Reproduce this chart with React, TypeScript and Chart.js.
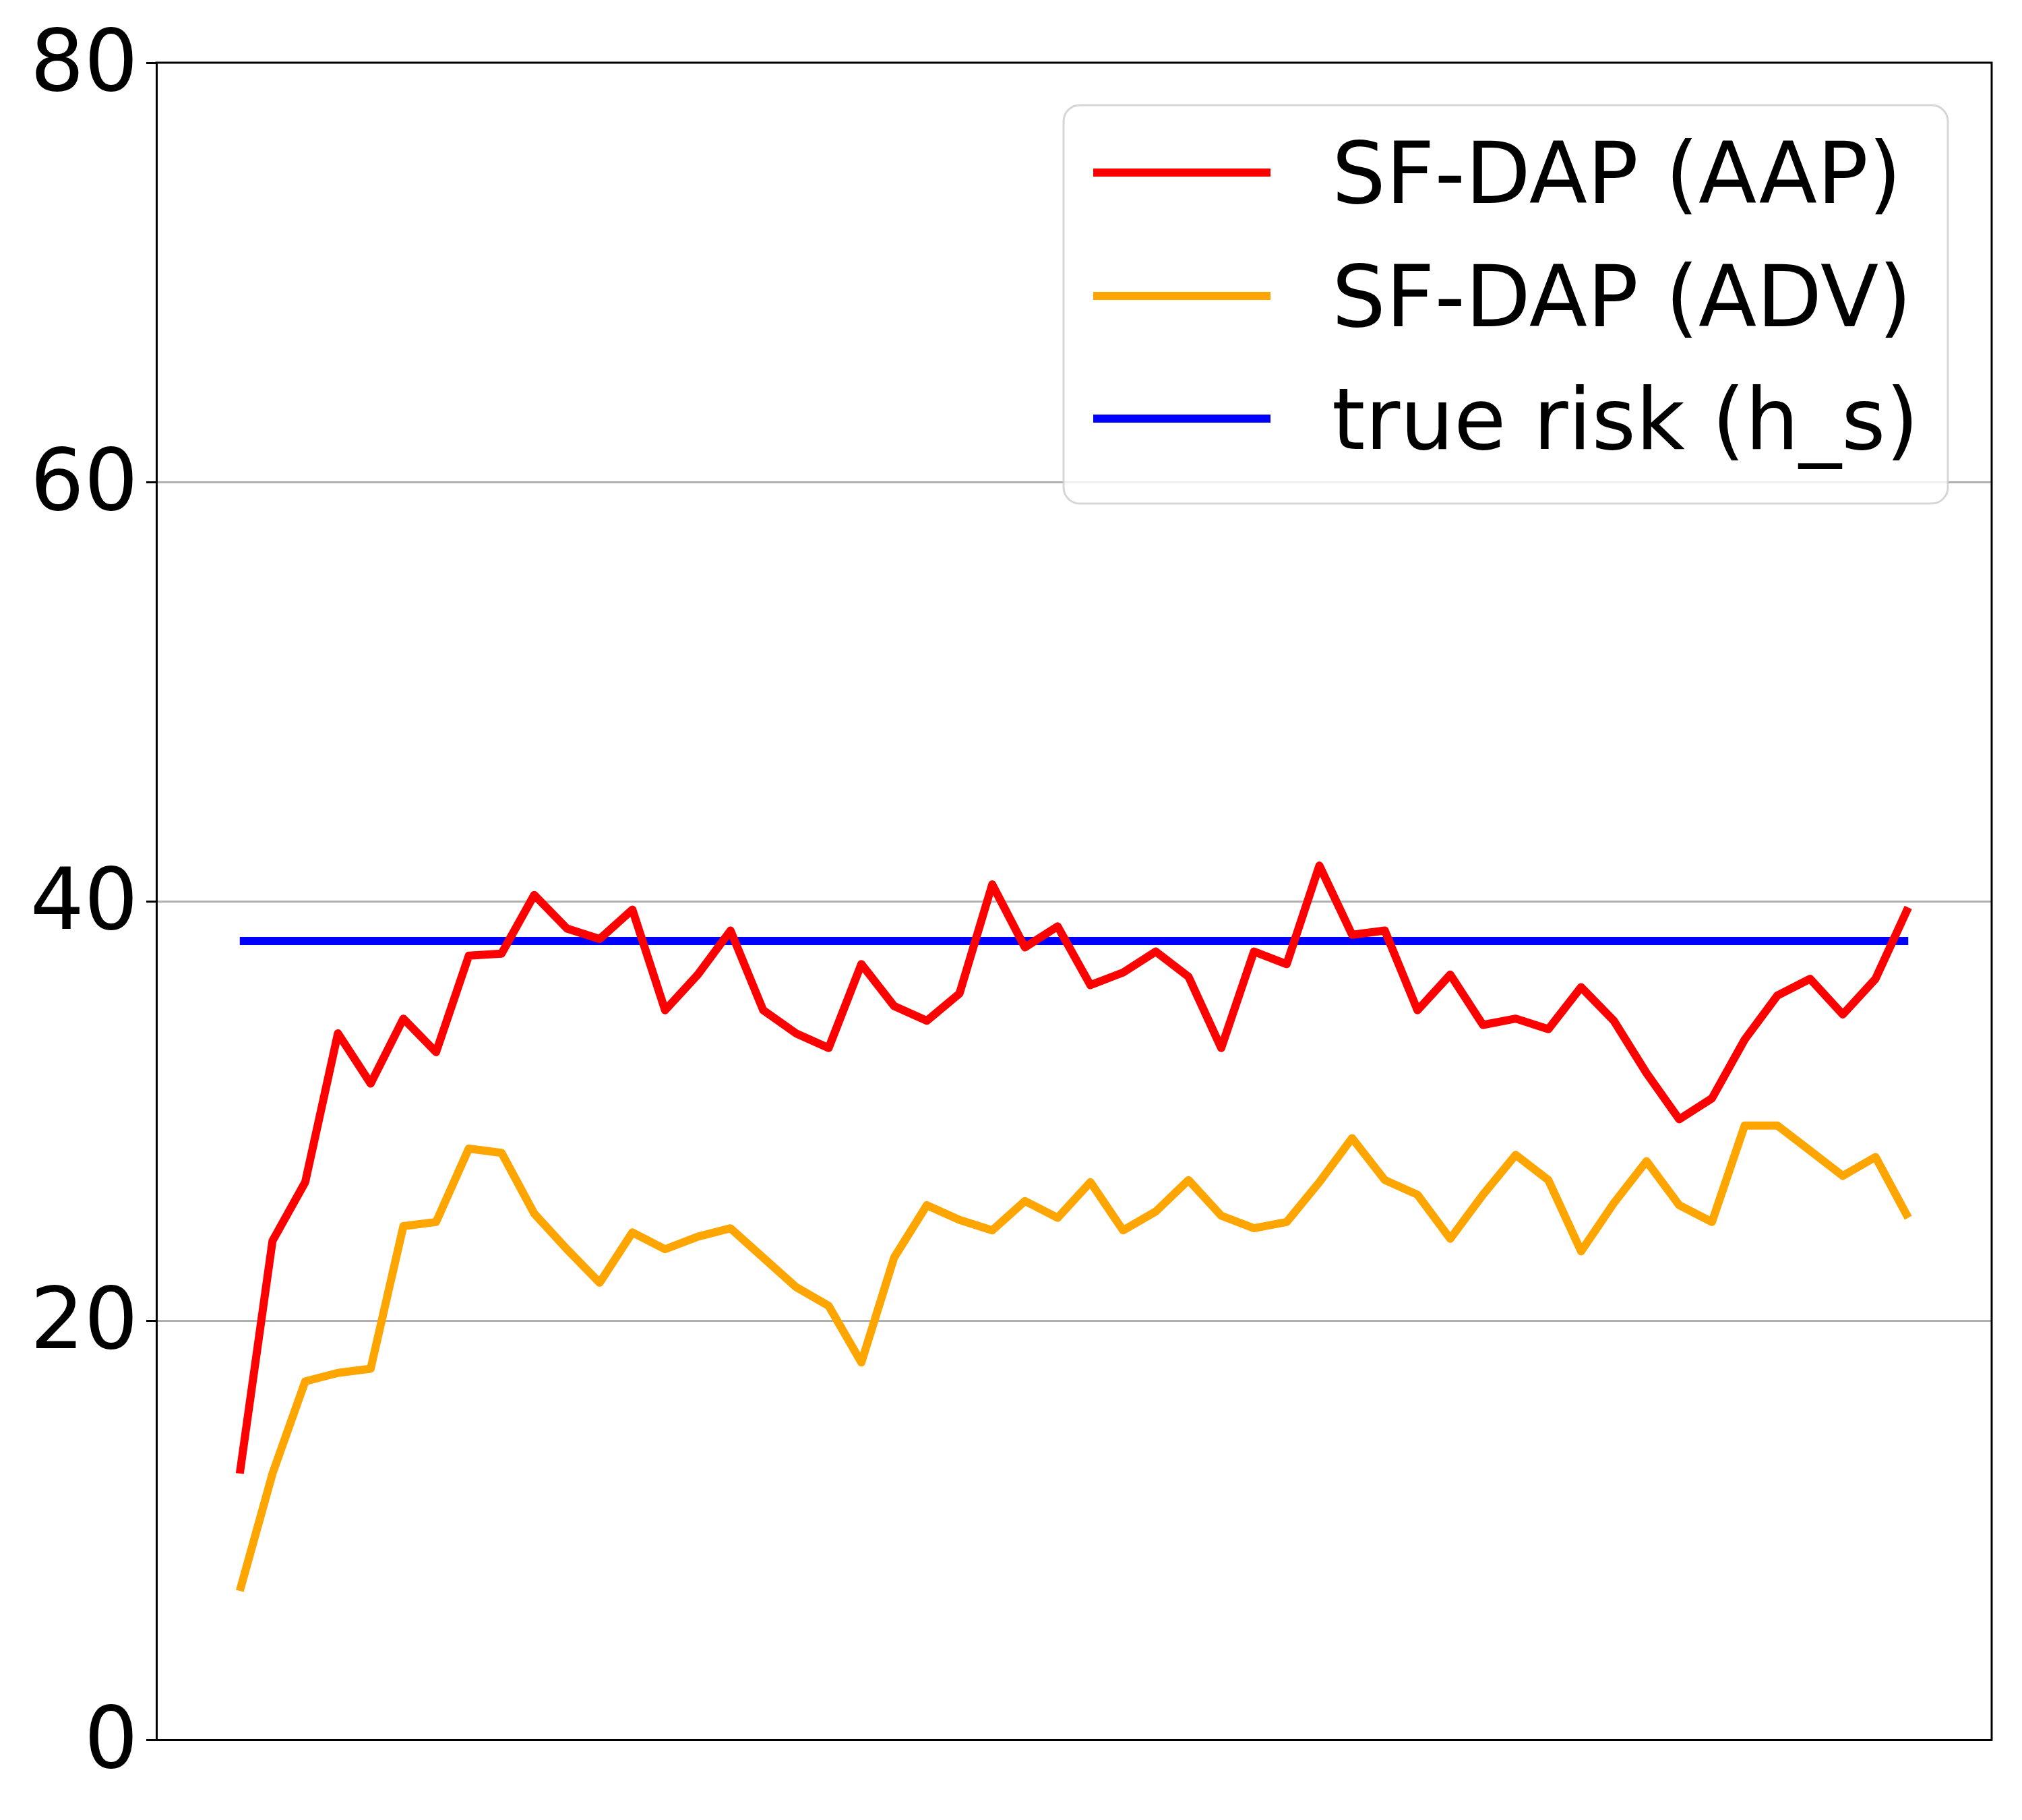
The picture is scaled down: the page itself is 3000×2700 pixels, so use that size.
import React, { useEffect, useRef } from 'react';
import { Chart, registerables } from 'chart.js';

Chart.register(...registerables);

// values, one per step (52 steps)
const AAP = [
  12.7, 23.8, 26.6, 33.7, 31.3, 34.4, 32.8, 37.4, 37.5, 40.3,
  38.7, 38.2, 39.6, 34.8, 36.5, 38.6, 34.8, 33.7, 33.0, 37.0,
  35.0, 34.3, 35.6, 40.8, 37.8, 38.8, 36.0, 36.6, 37.6, 36.4,
  33.0, 37.6, 37.0, 41.7, 38.4, 38.6, 34.8, 36.5, 34.1, 34.4,
  33.9, 35.9, 34.3, 31.8, 29.6, 30.6, 33.4, 35.5, 36.3, 34.6,
  36.3, 39.7,
];
const ADV = [
  7.1, 12.7, 17.1, 17.5, 17.7, 24.5, 24.7, 28.2, 28.0, 25.1,
  23.4, 21.8, 24.2, 23.4, 24.0, 24.4, 23.0, 21.6, 20.7, 18.0,
  23.0, 25.5, 24.8, 24.3, 25.7, 24.9, 26.6, 24.3, 25.2, 26.7,
  25.0, 24.4, 24.7, 26.6, 28.7, 26.7, 26.0, 23.9, 26.0, 27.9,
  26.7, 23.3, 25.6, 27.6, 25.5, 24.7, 29.3, 29.3, 28.1, 26.9,
  27.8, 24.9,
];
const TRUE_RISK = 38.1;
const Y_TICKS = [0, 20, 40, 60, 80];
const LABELS = ['SF-DAP (AAP)', 'SF-DAP (ADV)', 'true risk (h_s)'];
const COLORS = ['#ff0000', '#ffa500', '#0000ff'];

const FONT = '"DejaVu Sans", "Liberation Sans", sans-serif';
const LW = 12;

// top and right spines
const framePlugin = {
  id: 'frame',
  afterDatasetsDraw(chart: any) {
    const { ctx, chartArea: a } = chart;
    ctx.save();
    ctx.strokeStyle = '#000';
    ctx.lineWidth = 3;
    ctx.beginPath();
    ctx.moveTo(a.left - 1.5, a.top);
    ctx.lineTo(a.right, a.top);
    ctx.lineTo(a.right, a.bottom + 1.5);
    ctx.stroke();
    ctx.restore();
  },
};

// matplotlib-like legend box in the upper right
const legendPlugin = {
  id: 'mplLegend',
  afterDraw(chart: any) {
    const { ctx, chartArea: a } = chart;
    const w = 1312;
    const h = 591;
    const x = a.right - 65 - w;
    const y = a.top + 63;
    ctx.save();
    ctx.beginPath();
    ctx.roundRect(x, y, w, h, 24);
    ctx.fillStyle = 'rgba(255,255,255,0.8)';
    ctx.fill();
    ctx.strokeStyle = 'rgba(204,204,204,0.8)';
    ctx.lineWidth = 3;
    ctx.stroke();

    const rows = [100, 283, 465];
    ctx.font = `126px ${FONT}`;
    ctx.textBaseline = 'alphabetic';
    ctx.textAlign = 'left';
    chart.data.datasets.forEach((ds: any, i: number) => {
      const cy = y + rows[i];
      ctx.beginPath();
      ctx.strokeStyle = ds.borderColor;
      ctx.lineWidth = LW;
      ctx.lineCap = 'butt';
      ctx.moveTo(x + 44, cy);
      ctx.lineTo(x + 307, cy);
      ctx.stroke();
      ctx.fillStyle = '#000';
      ctx.fillText(ds.label, x + 398, cy + 45);
    });
    ctx.restore();
  },
};

const App: React.FC = () => {
  const canvasRef = useRef<HTMLCanvasElement>(null);

  useEffect(() => {
    const ctx = canvasRef.current?.getContext('2d');
    if (!ctx) return;

    const steps = AAP.map((_, i) => i);
    const line = (label: string, color: string, values: number[]) => ({
      label,
      data: steps.map((i) => ({ x: i, y: values[i] })),
      borderColor: color,
      backgroundColor: color,
      borderWidth: LW,
      pointRadius: 0,
      tension: 0,
      fill: false,
      borderJoinStyle: 'round' as const,
      borderCapStyle: 'butt' as const,
    });

    const chart = new Chart(ctx, {
      type: 'line',
      data: {
        datasets: [
          line(LABELS[0], COLORS[0], AAP),
          line(LABELS[1], COLORS[1], ADV),
          line(LABELS[2], COLORS[2], steps.map(() => TRUE_RISK)),
        ],
      },
      options: {
        animation: false,
        responsive: false,
        devicePixelRatio: 1,
        layout: { padding: { top: 93, right: 45, bottom: 119, left: 0 } },
        plugins: {
          legend: { display: false },
          tooltip: { enabled: false },
        },
        scales: {
          x: {
            type: 'linear',
            min: -2.55,
            max: 53.55,
            ticks: { display: false },
            grid: { display: false, drawTicks: false },
            border: { display: true, color: '#000', width: 3 },
            afterFit: (s: any) => {
              s.height = 0;
            },
          },
          y: {
            min: 0,
            max: 80,
            afterBuildTicks: (s: any) => {
              s.ticks = Y_TICKS.map((v) => ({ value: v }));
            },
            ticks: {
              color: '#000',
              padding: 12,
              labelOffset: 8,
              font: { family: FONT, size: 126 },
            },
            grid: {
              color: (c: any) =>
                c.tick && (c.tick.value === 0 || c.tick.value === 80) ? 'rgba(0,0,0,0)' : '#b0b0b0',
              lineWidth: 3,
              tickColor: '#000',
              tickLength: 15,
              tickWidth: 3,
            },
            border: { display: true, color: '#000', width: 3 },
            afterFit: (s: any) => {
              s.width = 232;
            },
          },
        },
      },
      plugins: [framePlugin, legendPlugin],
    });

    return () => {
      chart.destroy();
    };
  }, []);

  return (
    <div style={{ position: 'absolute', left: 0, top: 0, width: 3000, height: 2700, background: '#fff' }}>
      <canvas ref={canvasRef} width={3000} height={2700} style={{ display: 'block', width: 3000, height: 2700 }} />
    </div>
  );
};

export default App;
